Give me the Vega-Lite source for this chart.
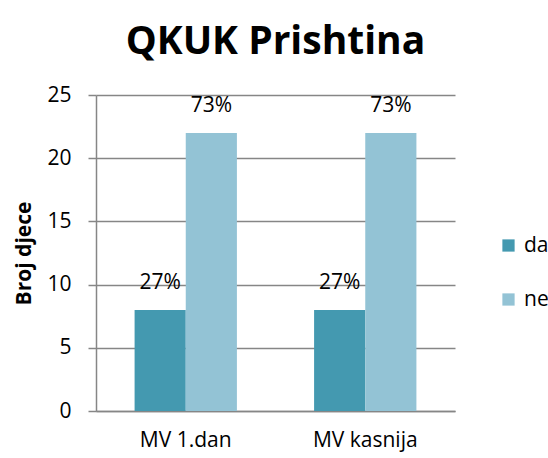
{
  "$schema": "https://vega.github.io/schema/vega-lite/v6.json",
  "autosize": {"type": "none"},
  "width": 359,
  "height": 316,
  "padding": {"left": 96, "top": 95, "right": 93, "bottom": 47},
  "background": "white",
  "title": {
    "text": "QKUK Prishtina",
    "font": "Open Sans",
    "fontSize": 39,
    "fontWeight": "bold",
    "color": "#000000",
    "anchor": "middle",
    "offset": 22
  },
  "data": {
    "values": [
      {"grupa": "MV 1.dan", "odgovor": "da", "broj": 8, "postotak": "27%"},
      {"grupa": "MV 1.dan", "odgovor": "ne", "broj": 22, "postotak": "73%"},
      {"grupa": "MV kasnija", "odgovor": "da", "broj": 8, "postotak": "27%"},
      {"grupa": "MV kasnija", "odgovor": "ne", "broj": 22, "postotak": "73%"}
    ]
  },
  "encoding": {
    "x": {
      "field": "grupa",
      "type": "nominal",
      "sort": null,
      "title": null,
      "scale": {"paddingInner": 0.43, "paddingOuter": 0.215},
      "axis": {
        "labelAngle": 0,
        "labelFont": "Open Sans",
        "labelFontSize": 21,
        "labelColor": "#000000",
        "labelPadding": 18,
        "ticks": false,
        "domainColor": "#868686",
        "domainWidth": 1.5
      }
    },
    "xOffset": {"field": "odgovor", "type": "nominal", "sort": ["da", "ne"]},
    "y": {
      "field": "broj",
      "type": "quantitative",
      "scale": {"domain": [0, 25]},
      "title": "Broj djece",
      "axis": {
        "values": [0, 5, 10, 15, 20, 25],
        "labelFont": "Open Sans",
        "labelFontSize": 21,
        "labelColor": "#000000",
        "labelPadding": 17,
        "tickSize": 8,
        "tickColor": "#868686",
        "tickWidth": 1.5,
        "domainColor": "#868686",
        "domainWidth": 1.5,
        "gridColor": "#868686",
        "gridWidth": 1.5,
        "titleFont": "Open Sans",
        "titleFontSize": 21,
        "titleFontWeight": "bold",
        "titleColor": "#000000",
        "titlePadding": 12
      }
    }
  },
  "layer": [
    {
      "mark": {"type": "bar"},
      "encoding": {
        "color": {
          "field": "odgovor",
          "type": "nominal",
          "scale": {"domain": ["da", "ne"], "range": ["#4499b0", "#93c3d5"]},
          "legend": {
            "title": null,
            "orient": "none",
            "legendX": 402,
            "legendY": 140,
            "symbolType": "square",
            "symbolSize": 150,
            "symbolStrokeWidth": 0,
            "labelFont": "Open Sans",
            "labelFontSize": 21,
            "labelColor": "#000000",
            "rowPadding": 32,
            "labelOffset": 5
          }
        }
      }
    },
    {
      "mark": {"type": "text", "font": "Open Sans", "fontSize": 21, "color": "#000000", "dy": -27},
      "encoding": {
        "text": {"field": "postotak"}
      }
    }
  ],
  "config": {
    "view": {"stroke": null}
  }
}
